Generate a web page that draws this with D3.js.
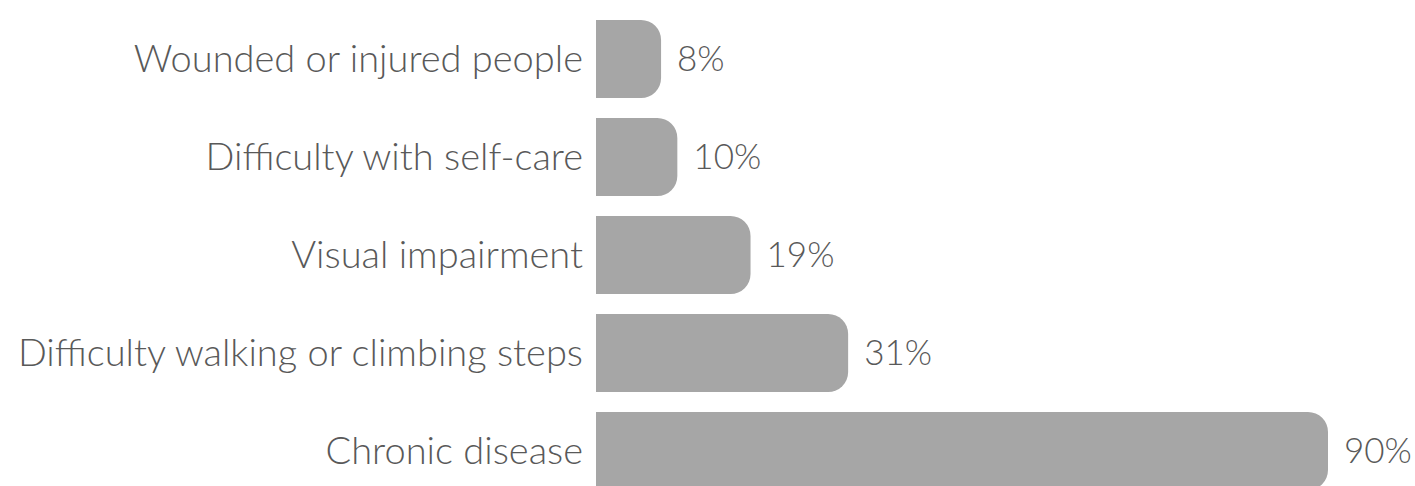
<!DOCTYPE html>
<html>
<head>
<meta charset="utf-8">
<script src="https://cdn.jsdelivr.net/npm/d3@7"></script>
<style>
  html, body { margin: 0; padding: 0; background: #fff; }
  svg { display: block; }
</style>
</head>
<body>
<svg id="chart" width="1415" height="486"></svg>
<script>
// data, top to bottom
const categories = [
  "Wounded or injured people",
  "Difficulty with self-care",
  "Visual impairment",
  "Difficulty walking or climbing steps",
  "Chronic disease"
];
const values = [8, 10, 19, 31, 90];
const valueLabels = ["8%", "10%", "19%", "31%", "90%"];

const W = 1415, H = 486;
const x0 = 596;          // bar origin
const barColor = "#a6a6a6";
const textColor = "#595959";
const radius = 20;

const svg = d3.select("#chart");

const y = d3.scaleBand()
  .domain(categories)
  .range([10, 500])
  .paddingInner(0.204)
  .paddingOuter(0.102);

const x = d3.scaleLinear()
  .domain([0, 90])
  .range([0, 732]);

// flat left side, rounded right side
function barPath(w, h) {
  const r = Math.min(radius, w / 2, h / 2);
  return `M0,0H${w - r}A${r},${r} 0 0 1 ${w},${r}V${h - r}A${r},${r} 0 0 1 ${w - r},${h}H0Z`;
}

const rows = svg.selectAll("g.row")
  .data(categories.map((c, i) => ({ c, v: values[i], label: valueLabels[i] })))
  .join("g")
    .attr("class", "row")
    .attr("transform", d => `translate(0,${y(d.c)})`);

rows.append("path")
  .attr("transform", `translate(${x0},0)`)
  .attr("d", d => barPath(x(d.v), y.bandwidth()))
  .attr("fill", barColor);

rows.append("text")
  .attr("x", 583)
  .attr("y", y.bandwidth() / 2)
  .attr("dy", "0.35em")
  .attr("text-anchor", "end")
  .attr("font-family", "Lato, 'Open Sans', sans-serif")
  .attr("font-weight", 300)
  .attr("font-size", 38)
  .attr("fill", textColor)
  .text(d => d.c);

rows.append("text")
  .attr("x", d => x0 + x(d.v) + 16)
  .attr("y", y.bandwidth() / 2)
  .attr("dy", "0.35em")
  .attr("font-family", "Lato, 'Open Sans', sans-serif")
  .attr("font-weight", 300)
  .attr("font-size", 35)
  .attr("fill", textColor)
  .text(d => d.label);
</script>
</body>
</html>
